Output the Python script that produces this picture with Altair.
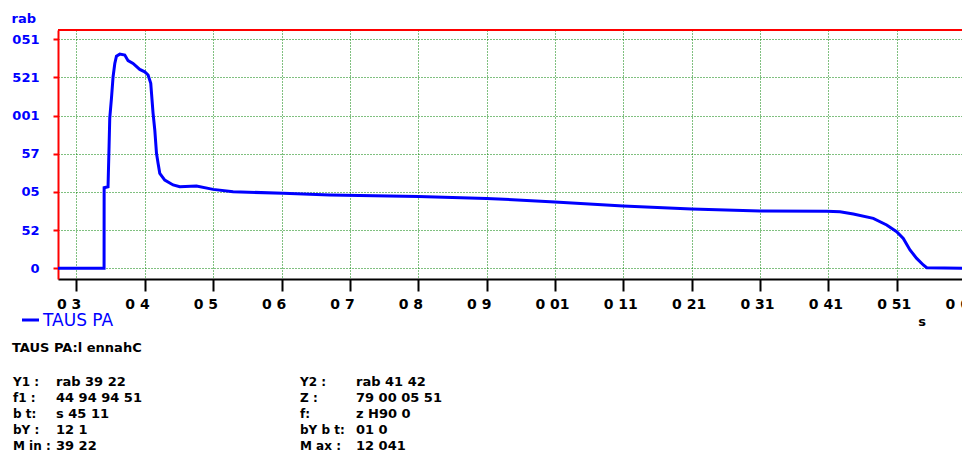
import altair as alt
import pandas as pd

# ---- data ----
TIME = [27.3, 34.04, 34.05, 34.62, 34.77, 34.87, 35.12, 35.36, 35.61, 35.85, 36.34,
        37.07, 37.55, 38.28, 39.26, 39.99, 40.48, 40.87, 41.21, 41.46, 41.71, 41.94,
        42.19, 42.92, 44.14, 45.12, 47.56, 49.99, 52.92, 60.24, 67.07, 80, 90, 100,
        110, 120, 130, 139.76, 141.71, 143.66, 146.58, 148.54, 150.0, 150.97, 151.95,
        152.93, 153.9, 154.4, 160.73]
PRESSURE = [0, 0, 52.8, 53.4, 79.6, 98.2, 111.3, 125.5, 134.2, 139.0, 140.3,
            139.7, 136.0, 134.2, 130.3, 128.7, 126.6, 121.2, 101.5, 90.6, 75.3, 68.8,
            62.2, 57.8, 54.6, 53.4, 53.9, 51.7, 50.2, 49.1, 48.0, 47.0, 45.8, 43.5,
            40.8, 38.8, 37.6, 37.4, 37.1, 35.6, 32.7, 28.4, 24.0, 19.6, 12.0,
            6.5, 2.2, 0.4, 0]

X_TICKS = [30, 40, 50, 60, 70, 80, 90, 100, 110, 120, 130, 140, 150, 160]
X_LABELS = ["0 3", "0 4", "0 5", "0 6", "0 7", "0 8", "0 9", "0 01", "0 11",
            "0 21", "0 31", "0 41", "0 51", "0 61"]
Y_TICKS = [0, 25, 50, 75, 100, 125, 150]
Y_LABELS = ["0", "52", "05", "57", "001", "521", "051"]

Y_TITLE = "rab"
X_TITLE = "s"
SERIES = "TAUS PA"
CHANNEL = "TAUS PA:l ennahC"
LEFT_LABELS = ["Y1 :", "f1 :", "b t:", "bY :", "M in :"]
LEFT_VALUES = ["rab 39 22", "44 94 94 51", "s 45 11", "12 1", "39 22"]
RIGHT_LABELS = ["Y2 :", "Z :", "f:", "bY b t:", "M ax :"]
RIGHT_VALUES = ["rab 41 42", "79 00 05 51", "z H90 0", "01 0", "12 041"]

FONT = "DejaVu Sans"
W, H = 912, 249
TOTAL_H = 444

df = pd.DataFrame({"t": TIME, "p": PRESSURE})


def expr_lookup(values, labels):
    vals = "[" + ",".join(str(v) for v in values) + "]"
    labs = "[" + ",".join("'" + l + "'" for l in labels) + "]"
    return f"{labs}[indexof({vals}, datum.value)]"


x_axis = alt.Axis(values=X_TICKS, labelExpr=expr_lookup(X_TICKS, X_LABELS),
                  domainColor="black", domainWidth=2, tickColor="black", tickWidth=2,
                  tickSize=12, labelColor="black", labelFont=FONT, labelFontSize=14,
                  labelFontWeight="bold", labelPadding=6, labelFlush=False,
                  labelAlign="left", labelOffset=-20, labelOverlap=False,
                  gridColor="green", gridDash=[1, 2], gridWidth=1, title=None)
y_axis = alt.Axis(values=Y_TICKS, labelExpr=expr_lookup(Y_TICKS, Y_LABELS),
                  domainColor="red", domainWidth=2, tickColor="red", tickWidth=2,
                  tickSize=5, labelColor="blue", labelFont=FONT, labelFontSize=13,
                  labelFontWeight="bold", labelPadding=14, labelFlush=False,
                  gridColor="green", gridDash=[1, 2], gridWidth=1,
                  title=Y_TITLE, titleAngle=0, titleAlign="left",
                  titleBaseline="alphabetic", titleX=-47, titleY=-8,
                  titleColor="blue", titleFont=FONT, titleFontSize=13,
                  titleFontWeight="bold")

line = alt.Chart(df).mark_line(color="blue", strokeWidth=3, clip=True).encode(
    x=alt.X("t:Q", scale=alt.Scale(domain=[27.3, 160.73], nice=False, zero=False), axis=x_axis),
    y=alt.Y("p:Q", scale=alt.Scale(domain=[-7.0, 156.1], nice=False, zero=False), axis=y_axis),
)

top_rule = alt.Chart(pd.DataFrame({"a": [0]})).mark_rule(color="red", strokeWidth=2).encode(
    x=alt.value(0), x2=alt.value(W), y=alt.value(0))

legend_line = alt.Chart(pd.DataFrame({"a": [0]})).mark_rule(color="blue", strokeWidth=3).encode(
    x=alt.value(-36), x2=alt.value(-19), y=alt.value(290))


def text_layer(texts, xs, ys, size=13, weight="bold", color="black", align="left"):
    d = pd.DataFrame({"txt": texts, "px": xs, "py": ys})
    return alt.Chart(d).mark_text(align=align, baseline="middle", font=FONT,
                                  fontSize=size, fontWeight=weight, color=color).encode(
        x=alt.X("px:Q", scale=None), y=alt.Y("py:Q", scale=None), text="txt:N")


legend_text = text_layer([SERIES], [-15], [291], size=17, weight="normal", color="blue")
xtitle = text_layer([X_TITLE], [864], [292], size=13, align="center")
channel = text_layer([CHANNEL], [-46], [318])

row_y = [351.5 + 16 * i for i in range(len(LEFT_LABELS))]
left_lab = text_layer(LEFT_LABELS, [-45] * 5, row_y, size=12)
left_val = text_layer(LEFT_VALUES, [-2] * 5, row_y)
right_lab = text_layer(RIGHT_LABELS, [242] * 5, row_y, size=12)
right_val = text_layer(RIGHT_VALUES, [298] * 5, row_y)

chart = alt.layer(
    line, top_rule, legend_line, legend_text, xtitle, channel,
    left_lab, left_val, right_lab, right_val,
).properties(
    width=W, height=H,
    autosize=alt.AutoSizeParams(type="none"),
    padding={"left": 50, "top": 22, "right": -8, "bottom": TOTAL_H - 22 - H},
).configure_view(strokeWidth=0).configure(font=FONT, background="white")

chart.save("out.html", embed_options={"renderer": "svg", "actions": False})
